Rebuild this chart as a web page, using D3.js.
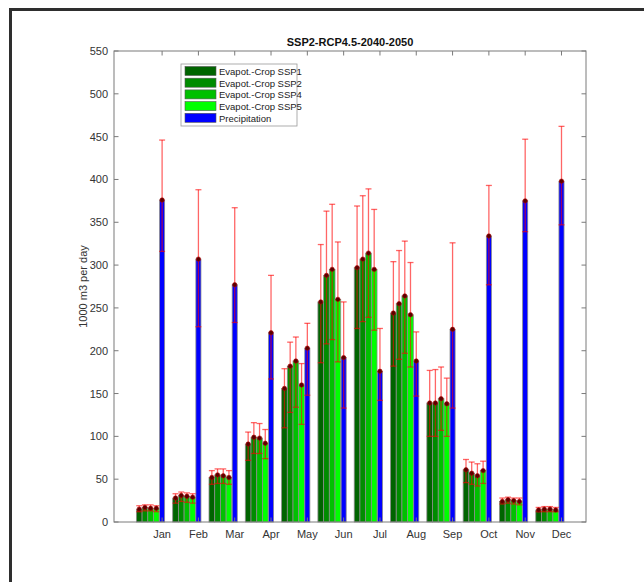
<!DOCTYPE html>
<html lang="en">
<head>
<meta charset="UTF-8">
<title>SSP2-RCP4.5-2040-2050</title>
<script src="https://d3js.org/d3.v7.min.js"></script>
<style>
    body { margin: 0; background: #fff; }
    svg { display: block; font-family: "Liberation Sans", Arial, sans-serif; }
</style>
</head>
<body>
<svg id="chart" width="644" height="582"></svg>
<script>
    const months = ["Jan", "Feb", "Mar", "Apr", "May", "Jun", "Jul", "Aug", "Sep", "Oct", "Nov", "Dec"];
    const yTicks = [0, 50, 100, 150, 200, 250, 300, 350, 400, 450, 500, 550];

    const seriesNames = ["Evapot.-Crop SSP1", "Evapot.-Crop SSP2", "Evapot.-Crop SSP4", "Evapot.-Crop SSP5", "Precipitation"];

    const ssp1 = [15, 28, 52, 91, 156, 257, 297, 244, 139, 61, 24, 14];
    const ssp2 = [17, 31, 55, 99, 182, 288, 307, 255, 139, 57, 26, 15];
    const ssp4 = [16, 30, 54, 98, 188, 295, 314, 264, 144, 54, 25, 15];
    const ssp5 = [16, 29, 52, 92, 160, 260, 295, 242, 138, 60, 24, 14];
    const precip = [376, 307, 277, 221, 203, 192, 176, 188, 225, 334, 375, 398];

    // upper / lower error bar ends
    const ssp1Hi = [19, 33, 60, 105, 179, 324, 369, 304, 177, 73, 28, 17];
    const ssp2Hi = [20, 35, 62, 116, 210, 363, 381, 317, 178, 70, 29, 18];
    const ssp4Hi = [20, 34, 62, 115, 216, 371, 389, 328, 181, 68, 28, 18];
    const ssp5Hi = [19, 33, 60, 108, 185, 327, 365, 303, 168, 71, 28, 17];
    const precipHi = [446, 388, 367, 288, 232, 257, 226, 222, 326, 393, 447, 462];

    const ssp1Lo = [12, 22, 44, 72, 110, 186, 226, 182, 100, 46, 21, 12];
    const ssp2Lo = [13, 24, 45, 80, 128, 208, 234, 190, 100, 44, 22, 12];
    const ssp4Lo = [13, 23, 45, 80, 134, 213, 239, 197, 107, 42, 21, 12];
    const ssp5Lo = [12, 22, 44, 74, 114, 187, 224, 181, 100, 45, 20, 12];
    const precipLo = [316, 228, 233, 167, 148, 133, 142, 147, 133, 277, 339, 347];

    const colors = ["#006400", "#008c00", "#00c000", "#00ff00", "#0000ff"];
    const values = [ssp1, ssp2, ssp4, ssp5, precip];
    const highs = [ssp1Hi, ssp2Hi, ssp4Hi, ssp5Hi, precipHi];
    const lows = [ssp1Lo, ssp2Lo, ssp4Lo, ssp5Lo, precipLo];

    const svg = d3.select("#chart");
    const plotLeft = 114, plotRight = 586, plotTop = 51, plotBottom = 522;

    // outer figure frame (cut at right and bottom)
    svg.append("line").attr("x1", 9).attr("x2", 644).attr("y1", 9.5).attr("y2", 9.5)
        .attr("stroke", "#2e2e2e").attr("stroke-width", 3);
    svg.append("line").attr("x1", 10.5).attr("x2", 10.5).attr("y1", 8).attr("y2", 582)
        .attr("stroke", "#2e2e2e").attr("stroke-width", 3);

    const x = d3.scaleLinear().domain([-1.325, 11.675]).range([plotLeft, plotRight]);
    const y = d3.scaleLinear().domain([0, 550]).range([plotBottom, plotTop]);
    const unit = x(1) - x(0);

    const offsets = [-0.63, -0.473, -0.316, -0.159, 0];
    const widths = [0.157, 0.157, 0.157, 0.157, 0.14];

    const bars = [];
    values.forEach((arr, s) => {
        arr.forEach((v, m) => {
            bars.push({ s, m, v, hi: highs[s][m], lo: lows[s][m], cx: m + offsets[s], w: widths[s] });
        });
    });

    svg.append("g").selectAll("rect")
        .data(bars)
        .enter().append("rect")
        .attr("x", d => x(d.cx) - d.w * unit / 2)
        .attr("width", d => d.w * unit)
        .attr("y", d => y(d.v))
        .attr("height", d => y(0) - y(d.v))
        .attr("fill", d => colors[d.s])
        .attr("stroke", "#8c8c8c")
        .attr("stroke-width", 0.8);

    // error bars
    const eb = svg.append("g").attr("stroke", "rgba(255,0,0,0.6)").attr("stroke-width", 1.3);
    eb.selectAll("line.v").data(bars).enter().append("line")
        .attr("x1", d => x(d.cx)).attr("x2", d => x(d.cx))
        .attr("y1", d => y(d.lo)).attr("y2", d => y(d.hi));
    eb.selectAll("line.hi").data(bars).enter().append("line")
        .attr("x1", d => x(d.cx) - 3).attr("x2", d => x(d.cx) + 3)
        .attr("y1", d => y(d.hi)).attr("y2", d => y(d.hi));
    eb.selectAll("line.lo").data(bars).enter().append("line")
        .attr("x1", d => x(d.cx) - 3).attr("x2", d => x(d.cx) + 3)
        .attr("y1", d => y(d.lo)).attr("y2", d => y(d.lo));

    svg.append("g").selectAll("circle")
        .data(bars)
        .enter().append("circle")
        .attr("cx", d => x(d.cx))
        .attr("cy", d => y(d.v))
        .attr("r", 2.2)
        .attr("fill", "#5a0000")
        .attr("stroke", "#b00000")
        .attr("stroke-width", 0.6);

    // axes box
    const axisColor = "#7a7a7a";
    svg.append("rect").attr("x", plotLeft).attr("y", plotTop)
        .attr("width", plotRight - plotLeft).attr("height", plotBottom - plotTop)
        .attr("fill", "none").attr("stroke", axisColor).attr("stroke-width", 1);

    const xTicks = d3.range(months.length);
    const tk = svg.append("g").attr("stroke", axisColor).attr("stroke-width", 1);
    xTicks.forEach(i => {
        tk.append("line").attr("x1", x(i)).attr("x2", x(i)).attr("y1", plotBottom).attr("y2", plotBottom - 4.5);
        tk.append("line").attr("x1", x(i)).attr("x2", x(i)).attr("y1", plotTop).attr("y2", plotTop + 4.5);
    });
    yTicks.forEach(t => {
        tk.append("line").attr("x1", plotLeft).attr("x2", plotLeft + 4.5).attr("y1", y(t)).attr("y2", y(t));
        tk.append("line").attr("x1", plotRight).attr("x2", plotRight - 4.5).attr("y1", y(t)).attr("y2", y(t));
    });

    svg.append("g").selectAll("text")
        .data(months)
        .enter().append("text")
        .attr("x", (d, i) => x(i))
        .attr("y", plotBottom + 16)
        .attr("text-anchor", "middle")
        .attr("font-size", 11)
        .attr("fill", "#333")
        .text(d => d);

    svg.append("g").selectAll("text")
        .data(yTicks)
        .enter().append("text")
        .attr("x", plotLeft - 6)
        .attr("y", d => y(d) + 4)
        .attr("text-anchor", "end")
        .attr("font-size", 11)
        .attr("fill", "#333")
        .text(d => d);

    svg.append("text")
        .attr("transform", `translate(${plotLeft - 27},${(plotTop + plotBottom) / 2}) rotate(-90)`)
        .attr("text-anchor", "middle")
        .attr("font-size", 11)
        .attr("fill", "#333")
        .text("1000 m3 per day");

    svg.append("text")
        .attr("x", (plotLeft + plotRight) / 2)
        .attr("y", plotTop - 5)
        .attr("text-anchor", "middle")
        .attr("font-size", 11)
        .attr("font-weight", "bold")
        .attr("fill", "#111")
        .text("SSP2-RCP4.5-2040-2050");

    // legend
    const lg = svg.append("g").attr("transform", "translate(181,64)");
    lg.append("rect").attr("width", 116).attr("height", 62)
        .attr("fill", "#fff").attr("stroke", "#9a9a9a").attr("stroke-width", 0.8);
    seriesNames.forEach((name, i) => {
        const row = lg.append("g").attr("transform", `translate(4,${7 + i * 11.7})`);
        row.append("rect").attr("width", 31).attr("height", 9).attr("y", -4.5)
            .attr("fill", colors[i]).attr("stroke", "#555").attr("stroke-width", 0.6);
        row.append("text").attr("x", 34).attr("y", 4).attr("font-size", 9.5).attr("fill", "#222").text(name);
    });
</script>
</body>
</html>
